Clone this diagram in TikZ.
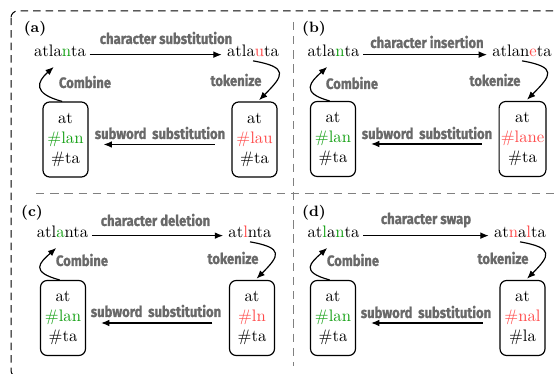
\documentclass[tikz,border=0pt]{standalone}
\usepackage{fontspec}
\newfontfamily\notefont[FakeStretch=0.87, FakeBold=1.2]{Fira Sans}
\usetikzlibrary{arrows.meta,positioning}
\definecolor{keep}{RGB}{20,160,20}
\definecolor{edit}{RGB}{255,75,75}
\definecolor{notegray}{RGB}{105,105,105}
\newcommand{\keepc}[1]{\textcolor{keep}{#1}}
\newcommand{\editc}[1]{\textcolor{edit}{#1}}
\tikzset{
  >={Latex[length=5pt,width=4pt]},
  shorten >=1pt,
}

\begin{document}
\begin{tikzpicture}[
      x=0.6pt, y=0.6pt,
      word/.style={anchor=base, inner sep=2pt},
      piece/.style={draw, rounded corners=4pt, minimum width=27pt, minimum height=45pt, align=center, inner sep=1pt, line width=0.7pt},
      note/.style={font=\notefont\bfseries\fontsize{9}{11}\selectfont, text=notegray},
      tag/.style={font=\small\bfseries},
      flow/.style={->, line width=0.7pt},
      frame/.style={dash pattern=on 4.5pt off 3pt, line width=0.6pt, rounded corners=4pt},
      split/.style={draw=gray, dash pattern=on 5pt off 3.5pt, line width=0.6pt},
    ]
      \useasboundingbox (0,0) rectangle (557,374);
      \draw [frame] (11,363) rectangle (580,-3);
      \draw [split] (293,352) -- (293,6);
      \draw [split] (36,180) -- (557,180);

      % (a) substitution
      \node [tag] (tagA) at (35,345) {(a)};
      \node [word] (srcA) at (60,317) {atla\keepc{n}ta};
      \node [word] (dstA) at (253,317) {atla\editc{u}ta};
      \node [piece] (oldA) at (65.5,234.5) {at\\\keepc{\#lan}\\\#ta};
      \node [piece] (newA) at (254.5,234.5) {at\\\editc{\#lau}\\\#ta};
      \node [note] (opA) at (166,336) {character substitution};
      \node [note] (joinA) at (85,292) {Combine};
      \node [note] (cutA) at (236,294) {tokenize};
      \node [note] (subA) at (160,241) {subword\hspace{0.18em} substitution};
      \draw [flow] ([yshift=-2pt]srcA.east) -- ([yshift=-2pt]dstA.west);
      \draw [flow] (dstA.south) to [out=-10, in=45, looseness=2.3] ([xshift=2pt]newA.north);
      \draw [flow] ([xshift=-10pt, yshift=-3pt]newA.west) -- ([xshift=8pt, yshift=-3pt]oldA.east);
      \draw [flow] ([xshift=-2pt]oldA.north) .. controls +(-30,8) and +(-18,-16) .. ([xshift=-3pt, yshift=-3pt]srcA.south);

      % (b) insertion
      \node [tag] (tagB) at (314,345) {(b)};
      \node [word] (srcB) at (333.5,317) {atla\keepc{n}ta};
      \node [word] (dstB) at (522,317) {atlan\editc{e}ta};
      \node [piece] (oldB) at (333,235) {at\\\keepc{\#lan}\\\#ta};
      \node [piece] (newB) at (522.5,235) {at\\\editc{\#lane}\\\#ta};
      \node [note] (opB) at (427,332) {character insertion};
      \node [note] (joinB) at (352,291) {Combine};
      \node [note] (cutB) at (495,294) {tokenize};
      \node [note] (subB) at (427,241) {subword\hspace{0.18em} substitution};
      \draw [flow] ([yshift=-2pt]srcB.east) -- ([yshift=-2pt]dstB.west);
      \draw [flow] (dstB.south) to [out=-10, in=45, looseness=2.3] ([xshift=2pt]newB.north);
      \draw [flow] ([xshift=-10pt, yshift=-3pt]newB.west) -- ([xshift=8pt, yshift=-3pt]oldB.east);
      \draw [flow] ([xshift=-2pt]oldB.north) .. controls +(-30,8) and +(-18,-16) .. ([xshift=-3pt, yshift=-3pt]srcB.south);

      % (c) deletion
      \node [tag] (tagC) at (32,161) {(c)};
      \node [word] (srcC) at (62.5,136) {atl\keepc{a}nta};
      \node [word] (dstC) at (250,136) {at\editc{l}nta};
      \node [piece] (oldC) at (63,56) {at\\\keepc{\#lan}\\\#ta};
      \node [piece] (newC) at (252,56) {at\\\editc{\#ln}\\\#ta};
      \node [note] (opC) at (155.5,154) {character deletion};
      \node [note] (joinC) at (82,114) {Combine};
      \node [note] (cutC) at (233,116) {tokenize};
      \node [note] (subC) at (156,63) {subword\hspace{0.18em} substitution};
      \draw [flow] ([yshift=-2pt]srcC.east) -- ([yshift=-2pt]dstC.west);
      \draw [flow] (dstC.south) to [out=-10, in=45, looseness=2.3] ([xshift=2pt]newC.north);
      \draw [flow] ([xshift=-10pt, yshift=-3pt]newC.west) -- ([xshift=8pt, yshift=-3pt]oldC.east);
      \draw [flow] ([xshift=-2pt]oldC.north) .. controls +(-30,8) and +(-18,-16) .. ([xshift=-3pt, yshift=-3pt]srcC.south);

      % (d) swap
      \node [tag] (tagD) at (314,161) {(d)};
      \node [word] (srcD) at (333.5,136) {at\keepc{l}a\keepc{n}ta};
      \node [word] (dstD) at (520,136) {at\editc{n}a\editc{l}ta};
      \node [piece] (oldD) at (333,56) {at\\\keepc{\#lan}\\\#ta};
      \node [piece] (newD) at (522.5,56) {at\\\editc{\#nal}\\\#la};
      \node [note] (opD) at (426,154) {character swap};
      \node [note] (joinD) at (353,114) {Combine};
      \node [note] (cutD) at (503,116) {tokenize};
      \node [note] (subD) at (426,62) {subword\hspace{0.18em} substitution};
      \draw [flow] ([yshift=-2pt]srcD.east) -- ([yshift=-2pt]dstD.west);
      \draw [flow] (dstD.south) to [out=-10, in=45, looseness=2.3] ([xshift=2pt]newD.north);
      \draw [flow] ([xshift=-10pt, yshift=-3pt]newD.west) -- ([xshift=8pt, yshift=-3pt]oldD.east);
      \draw [flow] ([xshift=-2pt]oldD.north) .. controls +(-30,8) and +(-18,-16) .. ([xshift=-3pt, yshift=-3pt]srcD.south);
    \end{tikzpicture}
\end{document}
